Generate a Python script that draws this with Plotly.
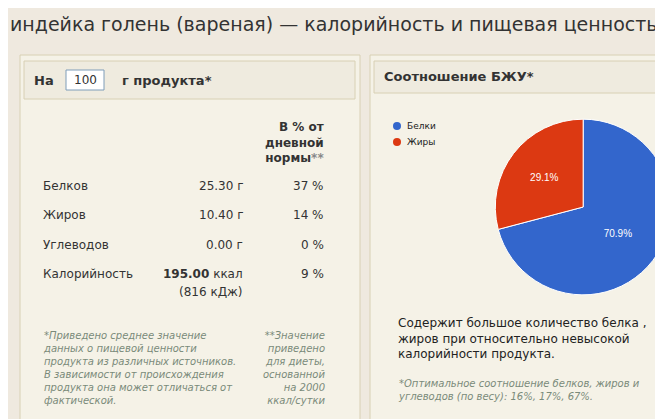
import plotly.graph_objects as go

W, H = 663, 419
labels = ['Белки', 'Жиры']
values = [70.9, 29.1]
colors = ['#3366cc', '#dc3912']

rows = ['Белков', 'Жиров', 'Углеводов', 'Калорийность']
amounts = ['25.30 г', '10.40 г', '0.00 г', '<b>195.00</b> ккал']
percents = ['37 %', '14 %', '0 %', '9 %']
row_y = [178, 207, 237, 266]

fig = go.Figure()
fig.add_trace(go.Pie(labels=labels, values=values, sort=False, direction='clockwise',
                     marker=dict(colors=colors, line=dict(color='white', width=1)),
                     textinfo='percent', texttemplate='%{percent:.1%}',
                     textfont=dict(color='white', size=10, family='Arial'),
                     domain=dict(x=[0.735, 1.0], y=[0.305, 0.745]),
                     showlegend=False, hoverinfo='label+percent'))

def px(x):
    return x / W

def py(y):
    return 1 - y / H

shapes = []
def rect(x0, y0, x1, y1, fill, line='#d8d0b4'):
    shapes.append(dict(type='rect', xref='paper', yref='paper', x0=px(x0), x1=px(x1),
                       y0=py(y1), y1=py(y0), fillcolor=fill, line=dict(color=line, width=1),
                       layer='below'))

rect(12, 47, 352, 425, '#f5f2e7')
rect(16, 53, 347, 91, '#efebdf')
rect(362, 47, 670, 425, '#f5f2e7')
rect(366, 53, 670, 85, '#efebdf')
rect(58, 62, 96, 82, 'white', '#7f9db9')
for c, yy in zip(colors, [118, 134]):
    shapes.append(dict(type='circle', xref='paper', yref='paper', x0=px(385), x1=px(393),
                       y0=py(yy + 4), y1=py(yy - 4), fillcolor=c, line=dict(width=0)))

ann = []
def text(x, y, s, size=12, color='#333333', anchor='left', bold=False, va='middle'):
    if bold:
        s = '<b>' + s + '</b>'
    ann.append(dict(x=px(x), y=py(y), xref='paper', yref='paper', text=s, showarrow=False,
                    xanchor=anchor, yanchor=va, align=anchor if anchor != 'center' else 'center',
                    font=dict(size=size, color=color, family='DejaVu Sans')))

text(0, 16, 'индейка голень (вареная) — калорийность и пищевая ценность', size=19, color='#333333')
text(24, 72, 'На', 13, bold=True)
text(77, 72, '100', 12, anchor='center')
text(112, 72, 'г продукта*', 13, bold=True)
text(374, 69, 'Соотношение БЖУ*', 13, bold=True)
text(318, 135, 'В % от<br>дневной<br>нормы<span style="color:#888">**</span>', 12,
     anchor='right', bold=True)
for r, a, p, yy in zip(rows, amounts, percents, row_y):
    text(33, yy, r, 12)
    text(237, yy, a, 12, anchor='right')
    text(318, yy, p, 12, anchor='right')
text(237, 284, '(816 кДж)', 12, anchor='right')
grey = '#7a8a7a'
text(33, 360, '<i>*Приведено среднее значение<br>данных о пищевой ценности<br>продукта из различных источников.'
     '<br>В зависимости от происхождения<br>продукта она может отличаться от<br>фактической.</i>',
     10, color=grey)
text(320, 360, '<i>**Значение<br>приведено<br>для диеты,<br>основанной<br>на 2000<br>ккал/сутки</i>',
     10, color=grey, anchor='right')
text(388, 330, 'Содержит большое количество белка ,<br>жиров при относительно невысокой<br>калорийности продукта.',
     12, color='#222222')
text(388, 382, '<i>*Оптимальное соотношение белков, жиров и<br>углеводов (по весу): 16%, 17%, 67%.</i>',
     10, color=grey)
text(397, 118, 'Белки', 9, color='#222222')
text(397, 134, 'Жиры', 9, color='#222222')

fig.update_layout(width=W, height=H, margin=dict(l=0, r=0, t=0, b=0),
                  paper_bgcolor='#efe9df', plot_bgcolor='#efe9df',
                  shapes=shapes, annotations=ann)
fig.write_html('out.html')
